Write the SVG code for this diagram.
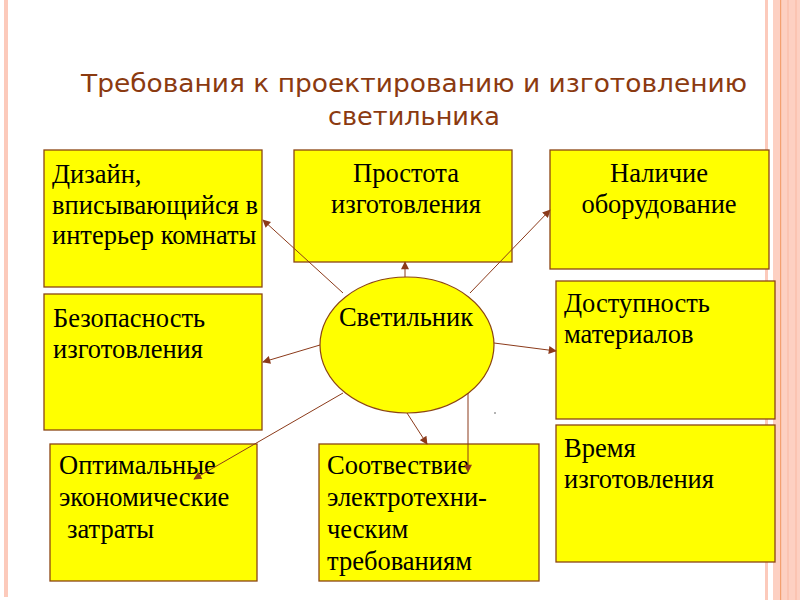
<svg xmlns="http://www.w3.org/2000/svg" width="800" height="600" viewBox="0 0 800 600">
<style>
.box{fill:#FFFF00;stroke:#8B4513;stroke-width:1.3}
.t{font-family:"Liberation Serif","Times New Roman",serif;font-size:26.5px;fill:#000}
.title{font-family:"DejaVu Sans","Verdana",sans-serif;font-size:25px;fill:#8B3A10}
.c{stroke:#8B3A1A;stroke-width:1;fill:none}
</style>
<defs>
<marker id="ah" viewBox="0 0 10 10" refX="9" refY="5" markerWidth="9" markerHeight="8" markerUnits="userSpaceOnUse" orient="auto">
<path d="M0,0 L10,5 L0,10 Z" fill="#8B3A1A"/>
</marker>
</defs>
<rect x="0" y="0" width="800" height="600" fill="#fff"/>
<g id="border">
<rect x="4" y="0" width="4" height="597" fill="#FCCABB"/>
<rect x="765" y="0" width="3" height="600" fill="#FCCABB"/>
<rect x="773" y="0" width="27" height="600" fill="#FDD0C2"/>
<rect x="780" y="0" width="1.2" height="600" fill="#F4A070"/>
<rect x="787" y="0" width="2" height="600" fill="#FBC4B2"/>
<rect x="795" y="0" width="2" height="600" fill="#FBC4B2"/>
</g>
<g id="title">
<text class="title" x="414" y="92" text-anchor="middle" textLength="666" lengthAdjust="spacingAndGlyphs">Требования к проектированию и изготовлению</text>
<text class="title" x="414" y="125" text-anchor="middle" textLength="172" lengthAdjust="spacingAndGlyphs">светильника</text>
</g>
<g id="n-design">
<rect class="box" x="44" y="150" width="218" height="137"/>
<text class="t" x="52" y="183">Дизайн,</text>
<text class="t" x="52" y="214">вписывающийся в</text>
<text class="t" x="52" y="244">интерьер комнаты</text>
</g>
<g id="n-simple">
<rect class="box" x="294" y="150" width="218" height="112"/>
<text class="t" x="406" y="182" text-anchor="middle">Простота</text>
<text class="t" x="406" y="213" text-anchor="middle">изготовления</text>
</g>
<g id="n-equip">
<rect class="box" x="550" y="150" width="219" height="119"/>
<text class="t" x="659" y="182" text-anchor="middle">Наличие</text>
<text class="t" x="659" y="213" text-anchor="middle">оборудование</text>
</g>
<g id="n-safety">
<rect class="box" x="44" y="294" width="218" height="136"/>
<text class="t" x="53" y="327">Безопасность</text>
<text class="t" x="53" y="358">изготовления</text>
</g>
<g id="n-materials">
<rect class="box" x="556" y="281" width="219" height="138"/>
<text class="t" x="564" y="312">Доступность</text>
<text class="t" x="564" y="343">материалов</text>
</g>
<g id="n-time">
<rect class="box" x="556" y="425" width="219" height="137"/>
<text class="t" x="564" y="457">Время</text>
<text class="t" x="564" y="488">изготовления</text>
</g>
<g id="n-cost">
<rect class="box" x="50" y="444" width="207" height="137"/>
<text class="t" x="59" y="474">Оптимальные</text>
<text class="t" x="59" y="506">экономические</text>
<text class="t" x="67" y="538">затраты</text>
</g>
<g id="n-electro">
<rect class="box" x="319" y="444" width="220" height="137"/>
<text class="t" x="327" y="474">Соотвествие</text>
<text class="t" x="327" y="506">электротехни-</text>
<text class="t" x="327" y="538">ческим</text>
<text class="t" x="327" y="570">требованиям</text>
</g>
<g id="n-lamp">
<ellipse cx="407" cy="345" rx="87" ry="68" fill="#FFFF00" stroke="#8B4513" stroke-width="1.2"/>
<text class="t" x="406" y="326" text-anchor="middle">Светильник</text>
</g>
<g id="connectors">
<line class="c" x1="343" y1="293" x2="263" y2="220" marker-end="url(#ah)"/>
<line class="c" x1="405" y1="277" x2="405" y2="262" marker-end="url(#ah)"/>
<line class="c" x1="470" y1="293" x2="550" y2="210" marker-end="url(#ah)"/>
<line class="c" x1="320" y1="345" x2="263" y2="362" marker-end="url(#ah)"/>
<line class="c" x1="494" y1="343" x2="556" y2="351" marker-end="url(#ah)"/>
<line class="c" x1="343" y1="393" x2="194" y2="479" marker-end="url(#ah)"/>
<line class="c" x1="407" y1="413" x2="427" y2="444" marker-end="url(#ah)"/>
<polyline class="c" points="468,393 468,472" marker-end="url(#ah)"/>
</g>
<circle cx="495" cy="413" r="0.8" fill="#555"/>
</svg>
